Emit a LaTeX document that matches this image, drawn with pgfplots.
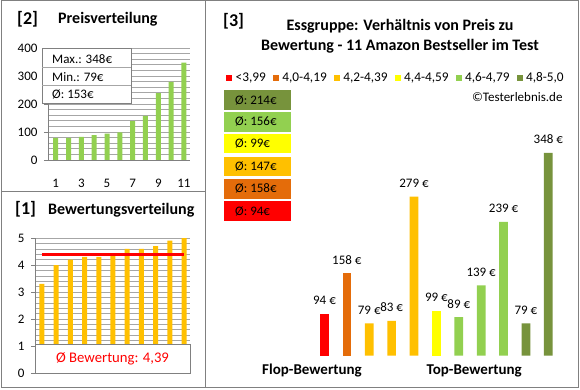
\documentclass[border=0pt]{standalone}
\usepackage{pgfplots}
\pgfplotsset{compat=1.18}
\usepackage{fontspec}
\setmainfont{Carlito}
\definecolor{lgreen}{HTML}{92D050}
\definecolor{cgold}{HTML}{FFC000}
\definecolor{cred}{HTML}{FF0000}
\definecolor{corange}{HTML}{E46C0A}
\definecolor{cyellow}{HTML}{FFFF00}
\definecolor{colive}{HTML}{77933C}
\definecolor{gridgray}{HTML}{A6A6A6}
\definecolor{framegray}{HTML}{808080}
\newcommand{\fs}[1]{\fontsize{#1}{#1}\selectfont}
\pgfplotsset{
  /pgf/number format/assume math mode=true,
  smallpanel/.style={
    anchor=south west, scale only axis,
    axis x line*=bottom, axis y line*=left,
    axis line style={draw=framegray, line width=0.8pt},
    ymajorgrids, yminorgrids,
    major grid style={draw=gridgray, line width=0.6pt},
    minor grid style={draw=gridgray, line width=0.6pt},
    tick align=outside,
    major tick length=4pt, minor tick length=0pt,
    x tick style={draw=none},
    y tick style={draw=framegray, line width=0.8pt},
    ticklabel style={font=\fs{13}},
    yticklabel style={xshift=-3pt},
  }
}
\begin{document}
\begin{tikzpicture}[x=1pt,y=1pt]
\useasboundingbox (0,0) rectangle (580,390);
\fill[white] (0,0) rectangle (580,390);

% ---------- Panel [2] Preisverteilung ----------
\begin{axis}[smallpanel,
  at={(48pt,230pt)}, width=142pt, height=112pt,
  xmin=0.4, xmax=11.47, ymin=0, ymax=400,
  xtick={1,3,5,7,9,11}, ytick={0,100,200,300,400},
  minor y tick num=4,
  xticklabel style={yshift=-12pt},
]
\addplot[ybar, bar width=5pt, fill=lgreen, draw=none]
  coordinates {(1,79) (2,79) (3,83) (4,89) (5,94) (6,99) (7,139) (8,158) (9,239) (10,279) (11,348)};
\end{axis}
\filldraw[fill=white, draw=framegray, line width=0.6pt] (42,342) rectangle (131,287);
\draw[gridgray, line width=0.6pt] (42,323) -- (131,323) (42,305) -- (131,305);
\node[anchor=west, inner sep=0pt, font=\fs{13}] at (52,331) {Max.: 348€};
\node[anchor=west, inner sep=0pt, font=\fs{13}] at (52,312.5) {Min.: 79€};
\node[anchor=west, inner sep=0pt, font=\fs{13}] at (52,295.5) {Ø: 153€};
\node[anchor=base west, inner sep=0pt, font=\bfseries\fs{18}] at (17,365) {[2]};
\node[anchor=base west, inner sep=0pt, font=\bfseries\fs{16}] at (58,366) {Preisverteilung};

% ---------- Panel [1] Bewertungsverteilung ----------
\begin{axis}[smallpanel,
  at={(35pt,17pt)}, width=155pt, height=135pt,
  xmin=0.51, xmax=11.42, ymin=0, ymax=5,
  xtick=\empty, ytick={0,1,2,3,4,5},
  minor y tick num=4,
]
\addplot[ybar, bar width=5pt, fill=cgold, draw=none]
  coordinates {(1,3.3) (2,4.0) (3,4.2) (4,4.3) (5,4.3) (6,4.4) (7,4.6) (8,4.6) (9,4.7) (10,4.9) (11,5.0)};
\addplot[cred, line width=3pt] coordinates {(1,4.39) (11,4.39)};
\end{axis}
\filldraw[fill=white, draw=framegray, line width=0.6pt] (35,46) rectangle (190,17);
\node[inner sep=0pt, text=cred, font=\fs{14.7}] at (112.5,31.5) {Ø Bewertung: 4,39};
\node[anchor=base west, inner sep=0pt, font=\bfseries\fs{18}] at (15,175) {[1]};
\node[anchor=base west, inner sep=0pt, font=\bfseries\fs{16}] at (48,175) {Bewertungsverteilung};

% ---------- Panel [3] ----------
\begin{axis}[
  at={(302.1pt,34.3pt)}, anchor=south west, scale only axis,
  width=268.6pt, height=248.5pt,
  xmin=0, xmax=12, ymin=28, ymax=420,
  hide axis,
  ybar, bar width=8.7pt, bar shift=0pt,
  nodes near coords={\pgfmathprintnumber{\pgfplotspointmeta}~€},
  every node near coord/.append style={anchor=base, inner sep=0pt, yshift=9pt, font=\fs{13}, text=black},
  legend columns=6, legend cell align=left,
  legend image code/.code={\fill[#1] (0pt,-3pt) rectangle (6pt,3pt);},
  legend style={at={(-0.2833,1.1187)}, anchor=west, draw=none, fill=none,
    inner sep=0pt, font=\fs{13.3}, nodes={inner sep=0pt},
    /tikz/every odd column/.append style={column sep=3.5pt},
    /tikz/every even column/.append style={column sep=7pt}},
]
\addplot[fill=cred, draw=none] coordinates {(1,94)};
\addlegendentry{<3,99}
\addplot[fill=corange, draw=none] coordinates {(2,158)};
\addlegendentry{4,0-4,19}
\addplot[fill=cgold, draw=none] coordinates {(3,79) (4,83) (5,279)};
\addlegendentry{4,2-4,39}
\addplot[fill=cyellow, draw=none] coordinates {(6,99)};
\addlegendentry{4,4-4,59}
\addplot[fill=lgreen, draw=none] coordinates {(7,89) (8,139) (9,239)};
\addlegendentry{4,6-4,79}
\addplot[fill=colive, draw=none] coordinates {(10,79) (11,348)};
\addlegendentry{4,8-5,0}
\end{axis}
\node[anchor=base west, inner sep=0pt, font=\bfseries\fs{18}] at (223,363) {[3]};
\node[anchor=base, inner sep=0pt, font=\bfseries\fs{16}] at (400,359.3) {Essgruppe: Verhältnis von Preis zu};
\node[anchor=base, inner sep=0pt, font=\bfseries\fs{16}] at (400,339.3) {Bewertung - 11 Amazon Bestseller im Test};
\node[anchor=base east, inner sep=0pt, font=\fs{13}] at (562.7,288.3) {©Testerlebnis.de};
% average boxes
\fill[colive] (224,300) rectangle (291,280);
\fill[lgreen] (224,278) rectangle (291,258.3);
\fill[cyellow] (224,255.7) rectangle (291,236.7);
\fill[cgold] (224,233.3) rectangle (291,214);
\fill[corange] (224,211) rectangle (291,191.3);
\fill[cred] (224,189) rectangle (291,169);
\node[anchor=west, inner sep=0pt, font=\fs{13}] at (235,290) {Ø: 214€};
\node[anchor=west, inner sep=0pt, font=\fs{13}] at (235,268.2) {Ø: 156€};
\node[anchor=west, inner sep=0pt, font=\fs{13}] at (235,246.2) {Ø: 99€};
\node[anchor=west, inner sep=0pt, font=\fs{13}] at (235,223.7) {Ø: 147€};
\node[anchor=west, inner sep=0pt, font=\fs{13}] at (235,201.2) {Ø: 158€};
\node[anchor=west, inner sep=0pt, font=\fs{13}] at (235,179) {Ø: 94€};
\node[anchor=base, inner sep=0pt, font=\bfseries\fs{15}] at (312,15.7) {Flop-Bewertung};
\node[anchor=base, inner sep=0pt, font=\bfseries\fs{15}] at (474.2,15.7) {Top-Bewertung};

% frames
\draw[framegray, line width=1pt] (1,389) rectangle (205,198);
\draw[framegray, line width=1pt] (1,198) rectangle (205,2);
\draw[framegray, line width=1pt] (205,389) rectangle (578,2);
\end{tikzpicture}
\end{document}
